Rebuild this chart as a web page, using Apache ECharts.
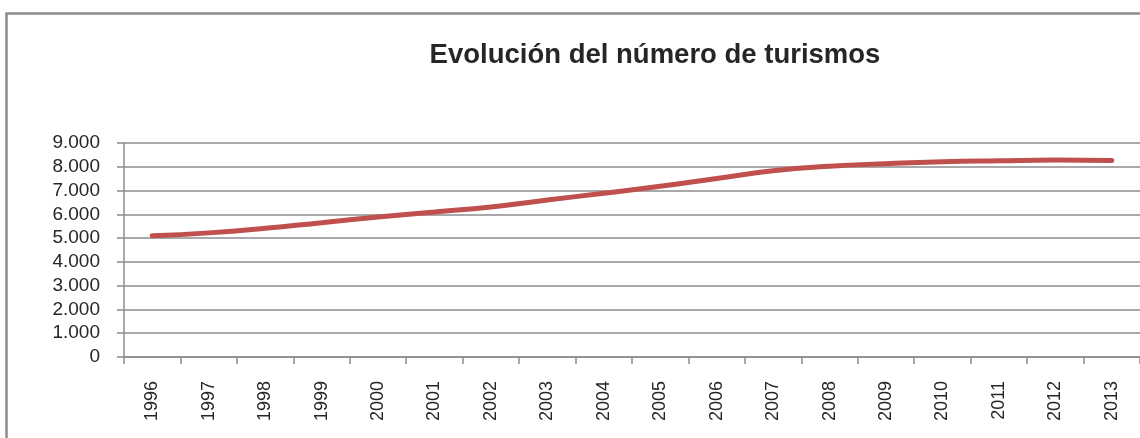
<!DOCTYPE html>
<html>
<head>
<meta charset="utf-8">
<script src="https://cdn.jsdelivr.net/npm/echarts@6/dist/echarts.min.js"></script>
<style>
html,body{margin:0;padding:0;background:#fff;}
#chart{width:1140px;height:438px;}
</style>
</head>
<body>
<div id="chart"></div>
<script>
const titleText = 'Evolución del número de turismos';
const years = ['1996','1997','1998','1999','2000','2001','2002','2003','2004','2005','2006','2007','2008','2009','2010','2011','2012','2013'];
const turismos = [5100,5220,5410,5650,5890,6100,6310,6600,6890,7180,7510,7830,8020,8130,8210,8250,8280,8260];
const yMin = 0, yMax = 9000, yStep = 1000;

const fmt = v => {
  if (v === 0) return '0';
  const s = String(v);
  return s.replace(/\B(?=(\d{3})+(?!\d))/g, '.');
};

const chart = echarts.init(document.getElementById('chart'), null, {renderer:'canvas'});
chart.setOption({
  animation:false,
  backgroundColor:'#fff',
  graphic:[{
    type:'rect', z:-1, silent:true,
    shape:{x:6.5, y:13.5, width:1300, height:1000},
    style:{fill:'none', stroke:'#8c8c8c', lineWidth:2.5}
  }],
  title:{
    text:titleText, left:650, top:36, textAlign:'center',
    textStyle:{fontFamily:'Liberation Sans, Arial, sans-serif', fontSize:27.5, fontWeight:'bold', color:'#262626'}
  },
  grid:{left:124, top:143, right:-6, bottom:81, containLabel:false},
  xAxis:{
    type:'category', data:years, boundaryGap:true,
    axisLine:{show:true, lineStyle:{color:'#8c8c8c', width:1.5}},
    axisTick:{show:true, alignWithLabel:false, length:7, lineStyle:{color:'#8c8c8c', width:1.5}},
    axisLabel:{rotate:90, margin:24, color:'#262626', fontFamily:'Liberation Sans, Arial, sans-serif', fontSize:18},
    splitLine:{show:false}
  },
  yAxis:{
    type:'value', min:yMin, max:yMax, interval:yStep,
    axisLine:{show:true, lineStyle:{color:'#8c8c8c', width:1.5}},
    axisTick:{show:true, length:7, lineStyle:{color:'#8c8c8c', width:1.5}},
    axisLabel:{margin:24, color:'#262626', fontFamily:'Liberation Sans, Arial, sans-serif', fontSize:19, formatter:fmt},
    splitLine:{show:true, lineStyle:{color:'#8c8c8c', width:1.5}}
  },
  series:[{
    type:'line', data:turismos, smooth:0.5, symbol:'none',
    lineStyle:{color:'#c0504d', width:5, cap:'round'},
    z:5
  }]
});
</script>
</body>
</html>
